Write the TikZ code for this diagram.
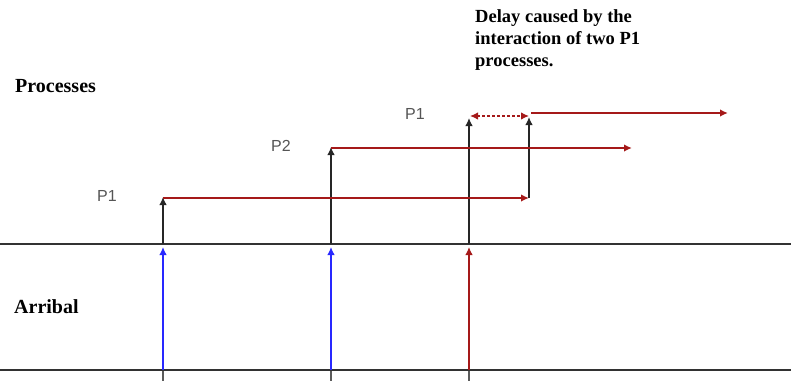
\documentclass[tikz,border=0pt]{standalone}
\usepackage{fontspec}
\setmainfont{Liberation Serif}
\newfontfamily\labelfont{Liberation Sans}
\usetikzlibrary{arrows.meta}
\definecolor{flowred}{RGB}{165,25,25}
\definecolor{arrblue}{RGB}{40,40,255}
\definecolor{axisgray}{RGB}{50,50,50}
\definecolor{plabel}{RGB}{85,85,85}
\tikzset{
  headtip/.tip={Latex[length=8pt,width=7.5pt]},
  tip/.style={-headtip},
  axisline/.style={draw=axisgray, line width=2pt},
  tickline/.style={draw=axisgray!80, line width=1.2pt},
  upblack/.style={tip, draw=black!85, line width=1.3pt},
  flow/.style={tip, draw=flowred, line width=1.7pt},
  arrivalblue/.style={tip, draw=arrblue, line width=1.3pt},
  arrivalred/.style={tip, draw=flowred, line width=1.3pt},
  delay/.style={headtip-headtip, draw=flowred, line width=1.3pt, dash pattern=on 3pt off 2pt},
  plab/.style={font=\labelfont\fontsize{16}{18}\selectfont, text=plabel, inner sep=0pt},
  heading/.style={font=\bfseries\fontsize{20}{24}\selectfont, anchor=base west, inner sep=0pt},
}
\begin{document}
\begin{tikzpicture}[x=1pt, y=-1pt]
\useasboundingbox (0,0) rectangle (791,381);

% time axes
\coordinate (axL) at (0,244);   \coordinate (axR) at (791,244);
\coordinate (baL) at (0,370);   \coordinate (baR) at (791,370);

% arrival instants
\coordinate (t1b) at (163,370); \coordinate (t1a) at (163,244);
\coordinate (t2b) at (331,370); \coordinate (t2a) at (331,244);
\coordinate (t3b) at (469,370); \coordinate (t3a) at (469,244);

% tick marks under the lower axis
\coordinate (k1) at (163,362); \coordinate (k1e) at (163,381);
\coordinate (k2) at (331,360); \coordinate (k2e) at (331,381);
\coordinate (k3) at (469,360); \coordinate (k3e) at (469,381);
\draw[tickline] (k1) -- (k1e);
\draw[tickline] (k2) -- (k2e);
\draw[tickline] (k3) -- (k3e);

\draw[axisline] (axL) -- (axR);
\draw[axisline] (baL) -- (baR);

% arrivals
\coordinate (r1) at (163,247);
\coordinate (r2) at (331,247);
\coordinate (r3) at (469,247);
\draw[arrivalblue] (t1b) -- (r1);
\draw[arrivalblue] (t2b) -- (r2);
\draw[arrivalred] (t3b) -- (r3);

% process start points
\coordinate (p1s) at (163,197);
\coordinate (p2s) at (331,147);
\coordinate (p3s) at (469,118);
\coordinate (p1e) at (529,198);
\coordinate (p2e) at (632,148);
\coordinate (d0) at (529,117);
\coordinate (p3a) at (531,113);
\coordinate (p3e) at (728,113);
\coordinate (dl) at (470,116);
\coordinate (dr) at (529,116);
\coordinate (p1l) at (163,198);
\coordinate (p2l) at (331,148);

% starts of processes
\draw[upblack] (t1a) -- (p1s);
\draw[upblack] (t2a) -- (p2s);
\draw[upblack] (t3a) -- (p3s);
\draw[upblack] (p1e) -- (d0);

% execution
\draw[flow] (p1l) -- (p1e);
\draw[flow] (p2l) -- (p2e);
\draw[flow] (p3a) -- (p3e);
\draw[delay] (dl) -- (dr);

% labels
\node[plab] (lp1) at (107,196) {P1};
\node[plab] (lp2) at (281,146) {P2};
\node[plab] (lp3) at (415,114) {P1};

\node[heading] (proc) at (15,92) {Processes};
\node[heading] (arr) at (14,313) {Arribal};
\node[font=\bfseries\fontsize{18.5}{22}\selectfont, anchor=north west, inner sep=0pt, align=left] (note) at (475,9)
  {Delay caused by the\\interaction of two P1\\processes.};
\end{tikzpicture}
\end{document}
